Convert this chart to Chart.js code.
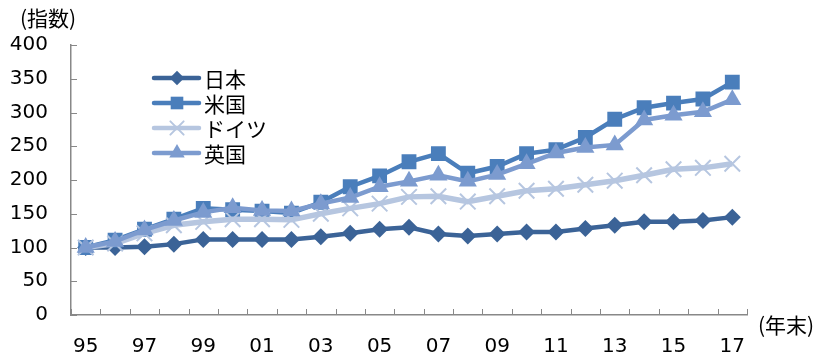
<!DOCTYPE html>
<html>
<head>
<meta charset="utf-8">
<script src="https://cdn.jsdelivr.net/npm/chart.js@4.4.1/dist/chart.umd.min.js"></script>
<style>
  body { margin: 0; background: #fff; }
  #wrap { position: relative; width: 826px; height: 355px; }
</style>
</head>
<body>
<div id="wrap"><canvas id="myChart" width="826" height="355"></canvas></div>
<script>
const years = ["95","96","97","98","99","00","01","02","03","04","05","06","07","08","09","10","11","12","13","14","15","16","17"];
const japan   = [100, 100, 101, 105, 112, 112, 112, 112, 116, 121, 127, 130, 120, 117, 120, 123, 123, 128, 133, 138, 138, 140, 145];
const usa     = [100, 111, 127, 142, 158, 156, 154, 151, 167, 190, 206, 227, 239, 210, 220, 239, 245, 263, 290, 307, 314, 320, 345];
const germany = [100, 106, 121, 133, 138, 142, 142, 141, 150, 158, 165, 175, 176, 168, 176, 184, 187, 193, 199, 207, 216, 218, 224];
const uk      = [100, 109, 126, 140, 152, 159, 155, 154, 165, 174, 190, 198, 207, 198, 208, 224, 240, 248, 252, 289, 296, 301, 319];
const names = ["日本", "米国", "ドイツ", "英国"];
const yTicks = [0, 50, 100, 150, 200, 250, 300, 350, 400];

const numFont = '"DejaVu Sans", Verdana, sans-serif';
const jpFont = '"Noto Sans CJK JP", sans-serif';

const colors = ["#3b6397", "#4a7ebb", "#b6c6e0", "#7c9bcf"];
const shapes = ["rectRot", "rect", "crossRot", "triangle"];
const radii = [8.5, 10.5, 11, 10.5];

function makeSet(i, data) {
  return {
    label: names[i],
    data: data,
    borderColor: colors[i],
    backgroundColor: colors[i],
    pointBackgroundColor: colors[i],
    pointBorderColor: colors[i],
    pointStyle: shapes[i],
    pointRadius: radii[i],
    pointHoverRadius: radii[i],
    pointBorderWidth: shapes[i] === "crossRot" ? 2 : 0,
    borderWidth: shapes[i] === "crossRot" ? 5.5 : 4.5,
    tension: 0,
    order: 4 - i
  };
}

// axis ticks, unit labels and the legend inside the plot
const extras = {
  id: "extras",
  afterDraw(chart) {
    const ctx = chart.ctx;
    const xs = chart.scales.x, ys = chart.scales.y;
    ctx.save();
    ctx.strokeStyle = "#888";
    ctx.lineWidth = 1;
    const n = years.length;
    for (let i = 0; i <= n; i++) {
      const x = Math.round(xs.left + i * (xs.right - xs.left) / n) + 0.5;
      ctx.beginPath(); ctx.moveTo(x, ys.bottom); ctx.lineTo(x, ys.bottom - 6); ctx.stroke();
    }
    yTicks.forEach(v => {
      const y = Math.round(ys.getPixelForValue(v)) + 0.5;
      ctx.beginPath(); ctx.moveTo(xs.left, y); ctx.lineTo(xs.left + 6, y); ctx.stroke();
    });

    ctx.fillStyle = "#000";
    ctx.font = "21px " + jpFont;
    ctx.textBaseline = "middle";
    ctx.textAlign = "left";
    ctx.fillText("(指数)", 20, 18);
    ctx.fillText("(年末)", 758, 325);

    // legend
    const rows = [78, 103, 128, 153];
    chart.data.datasets.forEach((ds, i) => {
      const y = rows[i];
      ctx.strokeStyle = ds.borderColor;
      ctx.lineWidth = 4.5;
      ctx.lineCap = "round";
      ctx.beginPath(); ctx.moveTo(154, y); ctx.lineTo(199, y); ctx.stroke();
      ctx.fillStyle = ds.borderColor;
      ctx.lineWidth = 2;
      Chart.helpers.drawPoint(ctx, { pointStyle: ds.pointStyle, radius: ds.pointRadius * 0.85, borderWidth: ds.pointBorderWidth, rotation: 0 }, 177, y);
      ctx.fillStyle = "#000";
      ctx.font = "21px " + jpFont;
      ctx.fillText(ds.label, 204, y + 1);
    });
    ctx.restore();
  }
};

new Chart("myChart", {
  type: "line",
  data: {
    labels: years,
    datasets: [makeSet(0, japan), makeSet(1, usa), makeSet(2, germany), makeSet(3, uk)]
  },
  options: {
    responsive: false,
    animation: false,
    layout: { padding: { top: 45, right: 79, bottom: 0, left: 0 } },
    plugins: { legend: { display: false }, tooltip: { enabled: false } },
    scales: {
      x: {
        offset: true,
        grid: { display: false, drawTicks: false },
        border: { display: true, color: "#888", width: 1.5 },
        afterFit(scale) { scale.height = 40; },
        ticks: {
          autoSkip: false,
          maxRotation: 0,
          padding: 20,
          color: "#000",
          font: { family: numFont, size: 20 },
          callback: function (v, i) { return i % 2 === 0 ? years[i] : ""; }
        }
      },
      y: {
        min: 0,
        max: 400,
        grid: { display: false, drawTicks: false },
        border: { display: true, color: "#888", width: 1.5 },
        afterFit(scale) { scale.width = 71; },
        afterBuildTicks(scale) { scale.ticks = yTicks.map(v => ({ value: v })); },
        ticks: {
          padding: 23,
          color: "#000",
          font: { family: numFont, size: 20 }
        }
      }
    }
  },
  plugins: [extras]
});
</script>
</body>
</html>
